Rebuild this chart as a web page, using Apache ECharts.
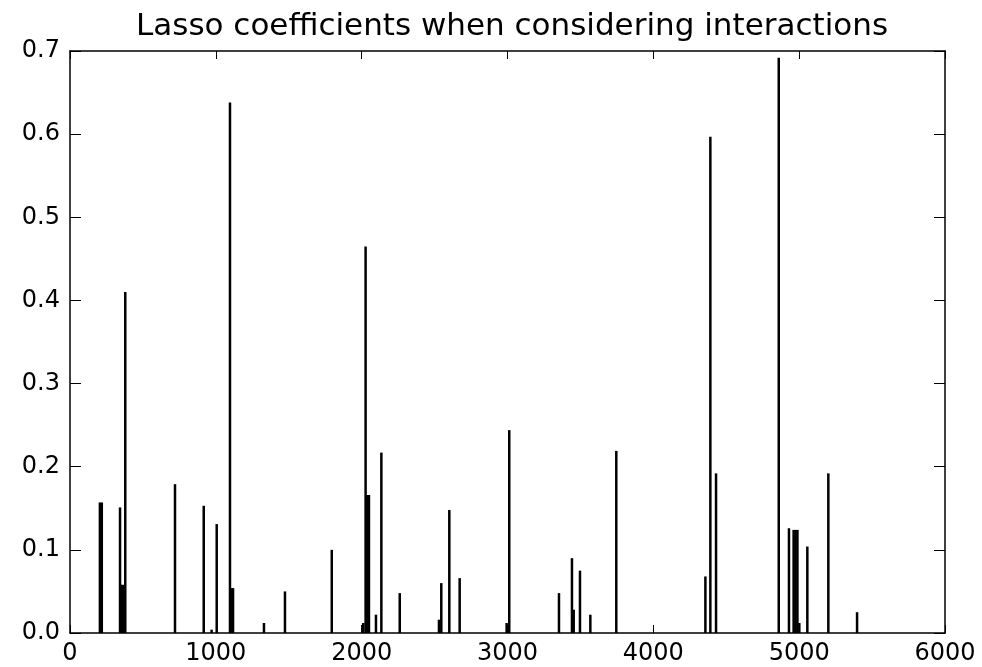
<!DOCTYPE html>
<html>
<head>
<meta charset="utf-8">
<script src="https://cdn.jsdelivr.net/npm/echarts@6/dist/echarts.min.js"></script>
<style>
  html, body { margin: 0; padding: 0; background: #fff; }
  #chart { width: 982px; height: 667px; }
</style>
</head>
<body>
<div id="chart"></div>
<script>
// Feature indices with a non-zero Lasso coefficient
const featureIndex = [
  205, 218, 343, 350, 362, 379, 720, 917, 971, 1006,
  1097, 1108, 1118, 1330, 1474, 1795, 2011, 2027, 2038, 2050,
  2098, 2135, 2261, 2530, 2546, 2601, 2672, 2994, 3012, 3353,
  3442, 3454, 3497, 3568, 3746, 4357, 4391, 4430, 4860, 4930,
  4962, 4975, 4988, 5001, 5056, 5200, 5397
];
// Coefficient value for each of those features
const coefValue = [
  0.157, 0.157, 0.151, 0.058, 0.058, 0.410, 0.179, 0.153, 0.004, 0.131,
  0.638, 0.054, 0.054, 0.012, 0.050, 0.100, 0.012, 0.465, 0.166, 0.166,
  0.022, 0.217, 0.048, 0.016, 0.060, 0.148, 0.066, 0.012, 0.244, 0.048,
  0.090, 0.028, 0.075, 0.022, 0.219, 0.068, 0.597, 0.192, 0.692, 0.126,
  0.124, 0.124, 0.124, 0.012, 0.104, 0.192, 0.025
];
// Axis ranges and tick steps
const xTicks = [0, 6000, 1000];
const yTicks = [0, 0.7, 0.1];
const titleText = 'Lasso coefficients when considering interactions';

const FONT = 'DejaVu Sans';
const chart = echarts.init(document.getElementById('chart'), null, { renderer: 'canvas' });

const lineStyle = { color: '#000', width: 1.5 };

function xAxisDef(pos, showLabel) {
  return {
    type: 'value', position: pos,
    min: xTicks[0], max: xTicks[1], interval: xTicks[2],
    axisLine: { show: true, onZero: false, lineStyle },
    axisTick: { show: true, inside: true, length: 8, lineStyle: { color: '#000', width: 1 } },
    axisLabel: {
      show: showLabel, fontFamily: FONT, fontSize: 24, color: '#000', margin: 9,
      formatter: v => String(v)
    },
    splitLine: { show: false }
  };
}
function yAxisDef(pos, showLabel) {
  return {
    type: 'value', position: pos,
    min: yTicks[0], max: yTicks[1], interval: yTicks[2],
    axisLine: { show: true, onZero: false, lineStyle },
    axisTick: { show: true, inside: true, length: 11, lineStyle: { color: '#000', width: 1 } },
    axisLabel: {
      show: showLabel, fontFamily: FONT, fontSize: 24, color: '#000', margin: 10,
      padding: [0, 0, 8, 0],
      formatter: v => v.toFixed(1)
    },
    splitLine: { show: false }
  };
}

chart.setOption({
  animation: false,
  backgroundColor: '#fff',
  title: {
    text: titleText,
    left: 507, top: 6, textAlign: 'center',
    textStyle: { fontFamily: FONT, fontSize: 31, fontWeight: 'normal', color: '#000' }
  },
  grid: { left: 70, right: 37, top: 51, bottom: 34, containLabel: false },
  xAxis: [xAxisDef('bottom', true), xAxisDef('top', false)],
  yAxis: [yAxisDef('left', true), yAxisDef('right', false)],
  series: [{
    type: 'bar',
    xAxisIndex: 0, yAxisIndex: 0,
    barWidth: 2.5,
    itemStyle: { color: '#000' },
    data: featureIndex.map((x, i) => [x, coefValue[i]])
  }]
});
</script>
</body>
</html>
